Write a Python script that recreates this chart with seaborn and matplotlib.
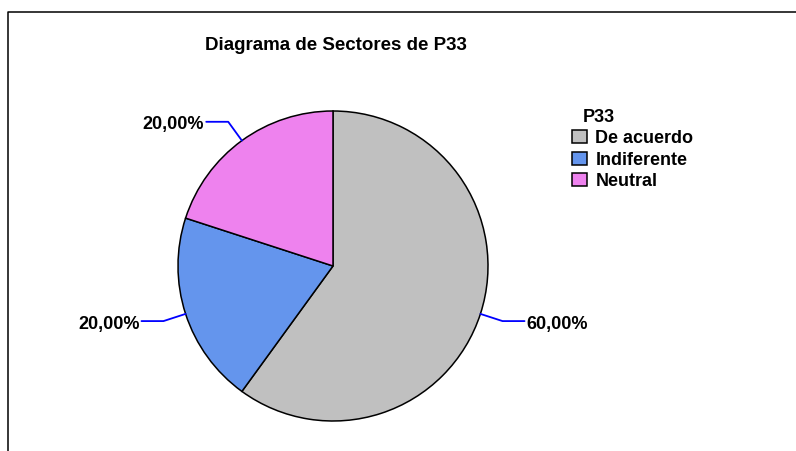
import numpy as np
import matplotlib
matplotlib.use("Agg")
import matplotlib.pyplot as plt
import seaborn as sns
from matplotlib.patches import Patch

# Response shares for question P33
categories = ["De acuerdo", "Indiferente", "Neutral"]
percentages = [60.0, 20.0, 20.0]
pct_labels = ["60,00%", "20,00%", "20,00%"]
title = "Diagrama de Sectores de P33"
legend_title = "P33"

sns.set_theme(style="white")
plt.rcParams["font.family"] = ["Liberation Sans", "DejaVu Sans"]
plt.rcParams["text.color"] = "black"

colors = sns.color_palette(["#C0C0C0", "#6495ED", "#EE82EE"])

W, H = 796, 451
fig = plt.figure(figsize=(W / 100, H / 100), dpi=100)
fig.patch.set_facecolor("white")

# Axes spans the whole canvas in pixel units (y measured from the bottom)
ax = fig.add_axes([0, 0, 1, 1])

cx, cy, R = 333, H - 266, 155
wedges, _ = ax.pie(
    percentages,
    colors=colors,
    startangle=90,
    counterclock=False,
    center=(cx, cy),
    radius=R,
    frame=True,
    wedgeprops=dict(edgecolor="black", linewidth=1.1),
)
ax.set_xlim(0, W)
ax.set_ylim(0, H)
ax.set_aspect("equal")
ax.set_axis_off()

# Percentage labels with elbowed leader lines
for w, lab in zip(wedges, pct_labels):
    mid = np.deg2rad((w.theta1 + w.theta2) / 2)
    ux, uy = np.cos(mid), np.sin(mid)
    p0 = (cx + R * ux, cy + R * uy)
    p1 = (cx + R * 1.15 * ux, cy + R * 1.15 * uy)
    side = 1 if ux >= 0 else -1
    p2 = (p1[0] + side * 22, p1[1])
    ax.plot([p0[0], p1[0], p2[0]], [p0[1], p1[1], p2[1]],
            color="#0000FF", lw=1.3, clip_on=False)
    ax.text(p2[0] + side * 2, p2[1] - 3, lab,
            ha="left" if side > 0 else "right", va="center",
            fontsize=13, fontweight="bold", color="black")

# Title
ax.text(336, H - 46, title, ha="center", va="center",
        fontsize=13.5, fontweight="bold", color="black")

# Legend
handles = [Patch(facecolor=c, edgecolor="black", linewidth=1.1) for c in colors]
ax.text(583, H - 117, legend_title, ha="left", va="center",
        fontsize=13, fontweight="bold", color="black")
leg = ax.legend(handles, categories, loc="upper left",
                bbox_to_anchor=(572 / W, 1 - 130 / H),
                bbox_transform=fig.transFigure, frameon=False,
                prop=dict(size=13, weight="bold"), labelcolor="black",
                handlelength=0.85, handleheight=0.7,
                handletextpad=0.45, labelspacing=0.25,
                borderpad=0, borderaxespad=0)

# Outer frame (left and top edges visible on the canvas)
ax.plot([7.5, 7.5, W + 5], [-5, H - 11.5, H - 11.5],
        color="black", lw=1.1, clip_on=False)

fig.savefig("out.png", dpi=100, facecolor="white")
